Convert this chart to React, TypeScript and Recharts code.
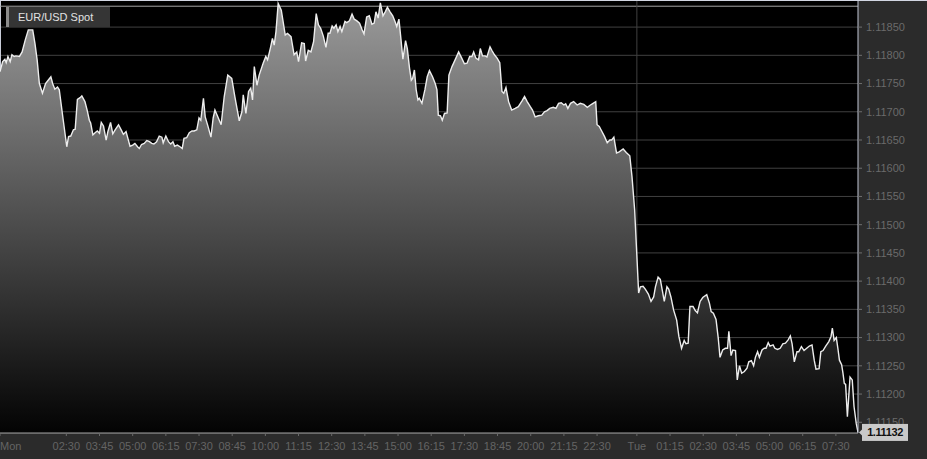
import React from 'react';
import { AreaChart, Area, XAxis, YAxis, CartesianGrid, ReferenceLine, ReferenceDot, Label } from 'recharts';

// minutes since Monday 00:00
const monAsiaTimes = [0,6,11,14,18,23,27,32,36,44,50,57,64,74,79,84,89,96,103,108,115,119,124,130,134,143,151,155,160,166,170,175,181,185,192,197,202,205,210,215,220,225,229,234,240,244,250,255,261,268,274,279,285,294,300,305,311,315,320,326,332,338,343,348,354,360,366,369,375,381,386,391,395,401,407,412,416,422,428,434,439,445,450,454,460,464,470,477,482];
const monAsiaPrices = [1.11771,1.11789,1.11793,1.11787,1.11798,1.11789,1.11801,1.11798,1.11799,1.11798,1.11806,1.11827,1.11845,1.11845,1.11821,1.11792,1.11750,1.11733,1.11750,1.11755,1.11762,1.11750,1.11740,1.11744,1.11739,1.11685,1.11638,1.11656,1.11657,1.11668,1.11669,1.11722,1.11725,1.11728,1.11718,1.11703,1.11685,1.11680,1.11659,1.11663,1.11666,1.11662,1.11681,1.11675,1.11650,1.11665,1.11681,1.11661,1.11669,1.11677,1.11668,1.11660,1.11665,1.11639,1.11641,1.11644,1.11638,1.11635,1.11642,1.11644,1.11649,1.11647,1.11644,1.11643,1.11647,1.11657,1.11655,1.11645,1.11657,1.11647,1.11643,1.11647,1.11639,1.11641,1.11638,1.11635,1.11653,1.11654,1.11663,1.11666,1.11666,1.11668,1.11689,1.11685,1.11724,1.11691,1.11675,1.11655,1.11689];

const monMorningTimes = [486,491,500,507,515,524,531,541,547,550,556,562,567,571,575,581,586,595,601,605,612,616,620,624,629,636,645,650,658,665,671,675,682,688,691,697,703,709,715,720];
const monMorningPrices = [1.11703,1.11694,1.11677,1.11727,1.11765,1.11759,1.11727,1.11684,1.11700,1.11730,1.11697,1.11736,1.11742,1.11721,1.11780,1.11747,1.11765,1.11786,1.11798,1.11792,1.11815,1.11830,1.11818,1.11842,1.11892,1.11880,1.11836,1.11839,1.11833,1.11801,1.11806,1.11789,1.11822,1.11821,1.11790,1.11809,1.11806,1.11824,1.11874,1.11854];

const monMiddayTimes = [725,731,737,742,746,751,755,760,764,769,773,780,784,790,796,801,807,813,819,823,829,835,841,846,850,855,860,866,871,876,882,888,894,897,902,906,911,917,921,926,930,933,937,941,945,948,954,961,966,971];
const monMiddayPrices = [1.11848,1.11834,1.11814,1.11839,1.11839,1.11852,1.11848,1.11854,1.11842,1.11851,1.11842,1.11860,1.11858,1.11861,1.11873,1.11864,1.11861,1.11857,1.11845,1.11838,1.11868,1.11870,1.11855,1.11857,1.11877,1.11866,1.11893,1.11870,1.11877,1.11885,1.11877,1.11870,1.11858,1.11851,1.11864,1.11833,1.11793,1.11826,1.11812,1.11777,1.11756,1.11759,1.11774,1.11739,1.11721,1.11724,1.11715,1.11740,1.11762,1.11773];

const monEveningTimes = [978,984,988,991,996,1000,1005,1011,1015,1022,1029,1037,1044,1050,1056,1062,1067,1071,1076,1082,1086,1091,1097,1101,1108,1112,1118,1124,1130,1135,1139,1144,1150,1157,1165,1172,1180,1186,1192,1199,1204,1210,1217,1225,1231,1237,1243,1251,1257,1263,1269,1275,1279,1284,1290,1297,1305,1312,1320,1328,1335,1341,1347,1350,1355,1361,1367,1373,1379,1383,1388,1394,1400,1409,1416,1424,1429,1435,1439,1444];
const monEveningPrices = [1.11762,1.11750,1.11739,1.11694,1.11693,1.11685,1.11697,1.11698,1.11765,1.11780,1.11792,1.11806,1.11795,1.11785,1.11786,1.11798,1.11798,1.11806,1.11795,1.11792,1.11812,1.11799,1.11799,1.11797,1.11815,1.11809,1.11801,1.11795,1.11787,1.11736,1.11733,1.11743,1.11718,1.11703,1.11706,1.11709,1.11719,1.11727,1.11718,1.11709,1.11703,1.11691,1.11693,1.11694,1.11700,1.11702,1.11706,1.11708,1.11706,1.11715,1.11716,1.11712,1.11714,1.11706,1.11715,1.11718,1.11712,1.11715,1.11713,1.11708,1.11712,1.11715,1.11718,1.11677,1.11674,1.11665,1.11656,1.11645,1.11650,1.11650,1.11655,1.11627,1.11629,1.11634,1.11628,1.11622,1.11585,1.11526,1.11461,1.11379];

const tueTimes = [1448,1454,1459,1466,1472,1478,1482,1488,1493,1497,1502,1508,1512,1517,1523,1530,1535,1541,1547,1551,1556,1560,1567,1572,1577,1583,1589,1598,1604,1608,1613,1619,1624,1628,1634,1640,1645,1648,1653,1657,1663,1667,1672,1677,1683,1689,1693,1699,1704,1708,1713,1717,1723,1728,1732,1737,1741,1748,1752,1758,1764,1770,1776,1782,1787,1791,1796,1802,1806,1812,1818,1824,1830,1836,1841,1845,1852,1856,1861,1867,1874,1879,1882,1886,1891,1895,1898,1903,1906,1909,1912,1916,1922,1927,1931,1936,1940];
const tuePrices = [1.11390,1.11391,1.11386,1.11377,1.11364,1.11372,1.11390,1.11407,1.11403,1.11386,1.11364,1.11390,1.11386,1.11372,1.11349,1.11331,1.11302,1.11281,1.11295,1.11289,1.11290,1.11355,1.11355,1.11348,1.11344,1.11364,1.11371,1.11376,1.11361,1.11346,1.11343,1.11332,1.11299,1.11265,1.11278,1.11281,1.11281,1.11311,1.11268,1.11278,1.11277,1.11225,1.11250,1.11237,1.11240,1.11246,1.11257,1.11259,1.11250,1.11265,1.11275,1.11265,1.11278,1.11281,1.11281,1.11291,1.11285,1.11287,1.11281,1.11279,1.11281,1.11289,1.11290,1.11296,1.11303,1.11289,1.11257,1.11275,1.11275,1.11284,1.11277,1.11281,1.11285,1.11287,1.11260,1.11244,1.11245,1.11275,1.11277,1.11285,1.11293,1.11302,1.11317,1.11295,1.11300,1.11278,1.11260,1.11252,1.11237,1.11219,1.11217,1.11160,1.11230,1.11225,1.11178,1.11148,1.11132];

const timeTicks = [0,150,225,300,375,450,525,600,675,750,825,900,975,1050,1125,1200,1275,1350,1440,1515,1590,1665,1740,1815,1890];
const timeTickLabels = ['Mon','02:30','03:45','05:00','06:15','07:30','08:45','10:00','11:15','12:30','13:45','15:00','16:15','17:30','18:45','20:00','21:15','22:30','Tue','01:15','02:30','03:45','05:00','06:15','07:30'];
const priceTicks = [1.1115,1.112,1.1125,1.113,1.1135,1.114,1.1145,1.115,1.1155,1.116,1.1165,1.117,1.1175,1.118,1.1185];
const priceDomain = [1.11131, 1.11898];
const timeDomain = [0, 1940];
const seriesName = 'EUR/USD Spot';
const dayBoundary = 1440;
const topBandLevel = 1.11887;

const allTimes = [...monAsiaTimes, ...monMorningTimes, ...monMiddayTimes, ...monEveningTimes, ...tueTimes];
const allPrices = [...monAsiaPrices, ...monMorningPrices, ...monMiddayPrices, ...monEveningPrices, ...tuePrices];
const data = allTimes.map((t, i) => ({ t, p: allPrices[i] }));
const last = data[data.length - 1];

const FONT = '"Liberation Sans", Arial, sans-serif';

const XTick = (props: any) => {
  const { x, y, payload } = props;
  const idx = timeTicks.indexOf(payload.value);
  const label = idx >= 0 ? timeTickLabels[idx] : '';
  return (
    <text x={x} y={y} dy="0.71em" textAnchor={payload.value === 0 ? 'start' : 'middle'} fill="#646464" fontSize={11} fontFamily={FONT}>
      {label}
    </text>
  );
};

const LastBadge = (props: any) => {
  const vb = props.viewBox || {};
  const cx = (vb.x || 0) + (vb.width || 0) / 2;
  const cy = (vb.y || 0) + (vb.height || 0) / 2;
  return (
    <g>
      <polygon points={`${cx + 1},${cy} ${cx + 6},${cy - 5} ${cx + 6},${cy + 5}`} fill="#c9c9c9" />
      <rect x={cx + 4} y={cy - 8.5} width={46} height={17} fill="#c9c9c9" />
      <text x={cx + 27} y={cy} dy="0.36em" textAnchor="middle" fontWeight="bold" fontSize={11} letterSpacing={-0.4} fill="#111" fontFamily={FONT}>
        {last.p.toFixed(5)}
      </text>
    </g>
  );
};

export default function App() {
  return (
    <div style={{ position: 'fixed', left: 0, top: 0, width: 927, height: 459, background: '#2b2b2b', overflow: 'hidden' }}>
      <AreaChart width={927} height={459} data={data} margin={{ top: 0, right: 0, bottom: 0, left: 0 }} style={{ fontFamily: FONT }}>
        <defs>
          <linearGradient id="spotFill" x1="0" y1="0" x2="0" y2="1">
            <stop offset="0%" stopColor="#9a9a9a" />
            <stop offset="100%" stopColor="#030303" />
          </linearGradient>
        </defs>
        <CartesianGrid vertical={false} stroke="#404040" fill="#000000" />
        <XAxis
          dataKey="t"
          type="number"
          domain={timeDomain}
          ticks={timeTicks}
          interval={0}
          height={26}
          axisLine={{ stroke: '#a3a3a3' }}
          tickLine={{ stroke: '#6a6a6a' }}
          tickSize={3}
          tickMargin={6}
          tick={<XTick />}
          allowDataOverflow
        />
        <YAxis
          orientation="right"
          type="number"
          domain={priceDomain}
          ticks={priceTicks}
          interval={0}
          width={69}
          axisLine={{ stroke: '#c3c8d6' }}
          tickLine={{ stroke: '#6f6f6f' }}
          tickSize={4}
          tickMargin={4}
          tick={{ fill: '#6a6a6a', fontSize: 11, fontFamily: FONT }}
          tickFormatter={(v: number) => v.toFixed(5)}
          allowDataOverflow
        />
        <ReferenceLine x={0} stroke="#c8ccd8" strokeWidth={2} zIndex={50} />
        <ReferenceLine y={topBandLevel} stroke="#a5a5a5" strokeWidth={1} zIndex={50} />
        <ReferenceLine x={dayBoundary} stroke="#404040" strokeWidth={1} zIndex={50} />
        <Area
          type="linear"
          dataKey="p"
          name={seriesName}
          stroke="#ededed"
          strokeWidth={1.4}
          fill="url(#spotFill)"
          fillOpacity={1}
          dot={false}
          activeDot={false}
          isAnimationActive={false}
        />
        <ReferenceDot x={last.t} y={last.p} r={1} fill="none" stroke="none" zIndex={2100}>
          <Label content={<LastBadge />} />
        </ReferenceDot>
      </AreaChart>
      <div style={{ position: 'absolute', left: 0, top: 0, width: 927, height: 1, background: '#d2d6e2' }} />
      <div
        style={{
          position: 'absolute',
          left: 6,
          top: 7,
          width: 104,
          height: 20,
          background: '#353535',
          borderLeft: '3px solid #8c8c8c',
          color: '#e2e2e2',
          fontFamily: FONT,
          fontSize: 11,
          lineHeight: '20px',
          paddingLeft: 9,
          boxSizing: 'border-box',
          whiteSpace: 'nowrap',
        }}
      >
        {seriesName}
      </div>
    </div>
  );
}
